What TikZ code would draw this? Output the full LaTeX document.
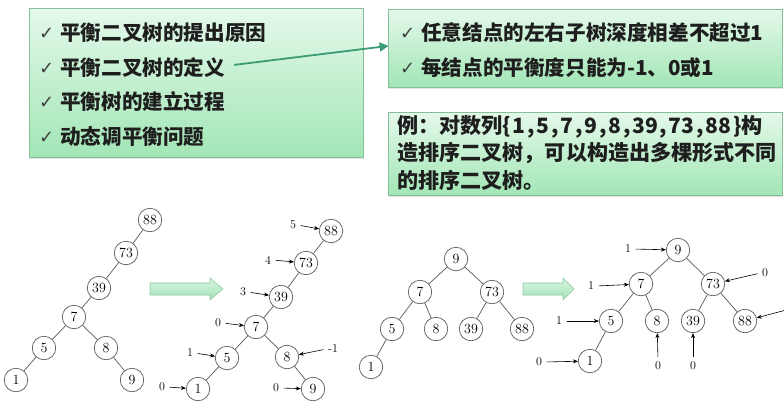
\documentclass[tikz,border=0pt]{standalone}
\usepackage{fontspec}
\newfontfamily\cjk{Noto Sans CJK SC}
\newfontfamily\dejavu{DejaVu Sans}
\usetikzlibrary{shadows,arrows.meta}

\definecolor{boxtop}{HTML}{E4F9EA}
\definecolor{boxbot}{HTML}{A2E6B6}
\definecolor{boxedge}{HTML}{86BE98}
\definecolor{inktext}{HTML}{1E1E1E}
\definecolor{linkcol}{HTML}{3C9C76}
\definecolor{treeline}{HTML}{5A5A5A}
\definecolor{bigtop}{HTML}{D8F6E2}
\definecolor{bigbot}{HTML}{A4E2B8}
\definecolor{bigedge}{HTML}{8FC7A2}

\newcommand{\chk}{\makebox[21pt][l]{\raisebox{1pt}{\dejavu\mdseries\fontsize{18}{18}\selectfont\color{black!75}✓}}}
% wider spacing for the number list
\newcommand{\sk}{\kern1.8pt}

\begin{document}
\begin{tikzpicture}[x=1pt,y=-1pt,
  panel/.style={draw=boxedge, line width=0.8pt, top color=boxtop, bottom color=boxbot,
    inner sep=0pt, drop shadow={opacity=0.22, shadow xshift=1pt, shadow yshift=-2pt}},
  item/.style={anchor=west, inner sep=0pt, text=inktext, font=\cjk\bfseries\fontsize{20.6}{24}\selectfont},
  itemb/.style={item, font=\cjk\bfseries\fontsize{21.1}{24}\selectfont},
  link/.style={draw=linkcol, line width=1.8pt, -{Triangle[length=9pt,width=9pt]}},
  tn/.style={circle, draw=treeline, fill=white, line width=0.7pt, minimum size=23.5pt,
    inner sep=0pt, font=\fontsize{14}{14}\selectfont},
  edge/.style={draw=treeline, line width=0.7pt},
  lab/.style={inner sep=1.5pt, font=\fontsize{12}{12}\selectfont},
  pt/.style={draw=black, line width=0.6pt, -{Stealth[length=5pt,width=4pt]}, shorten <=3pt},
  bigarrow/.style={draw=bigedge, line width=0.6pt, top color=bigtop, bottom color=bigbot}]

\useasboundingbox[fill=white] (0,0) rectangle (784,408);

% ---- topic panels ----
\node[panel, minimum width=334pt, minimum height=149pt] (topics) at (196,82.5) {};
\node[panel, minimum width=394pt, minimum height=78pt] (rtop) at (585,48) {};
\node[panel, minimum width=394pt, minimum height=83pt] (rbot) at (585,153.5) {};

\node[item] (l1) at (39,33)  {\chk 平衡二叉树的提出原因};
\node[item] (l2) at (39,68)  {\chk 平衡二叉树的定义};
\node[item] (l3) at (39,102) {\chk 平衡树的建立过程};
\node[item] (l4) at (39,137) {\chk 动态调平衡问题};

\node[item] (r1) at (400,33) {\chk 任意结点的左右子树深度相差不超过1};
\node[item] (r2) at (400,68) {\chk 每结点的平衡度只能为-1、0或1};

\node[itemb] (e1) at (397,127) {例：对数列\{\sk1\sk,\sk5\sk,\sk7\sk,\sk9\sk,\sk8\sk,\sk39\sk,\sk73\sk,\sk88\sk\}构};
\node[itemb] (e2) at (397,153) {造排序二叉树，可以构造出多棵形式不同};
\node[itemb] (e3) at (397,180) {的排序二叉树。};

\draw[link, shorten <=9pt, shorten >=-1pt] ([yshift=2pt]l2.east) -- ([yshift=2pt]rtop.west);

% ---- tree 1: plain insertion order ----
\node[tn] (a88) at (150,220) {88};
\node[tn] (a73) at (126,253) {73};
\node[tn] (a39) at (99,288)  {39};
\node[tn] (a7)  at (74,317)  {7};
\node[tn] (a5)  at (44,348)  {5};
\node[tn] (a8)  at (106,348) {8};
\node[tn] (a1)  at (16,380)  {1};
\node[tn] (a9)  at (132,380) {9};
\draw[edge] (a88) -- (a73) (a73) -- (a39) (a39) -- (a7) (a7) -- (a5) (a7) -- (a8)
            (a5) -- (a1) (a8) -- (a9);

\draw[bigarrow] (150,283) -- (210,283) -- (210,278) -- (223,289) -- (210,300) -- (210,295) -- (150,295) -- cycle;

% ---- tree 2: same tree with balance factors ----
\node[tn] (b88) at (331,231) {88};
\node[tn] (b73) at (306,263) {73};
\node[tn] (b39) at (281,297) {39};
\node[tn] (b7)  at (256,327) {7};
\node[tn] (b5)  at (227,358) {5};
\node[tn] (b8)  at (287,357) {8};
\node[tn] (b1)  at (198,389) {1};
\node[tn] (b9)  at (313,389) {9};
\draw[edge] (b88) -- (b73) (b73) -- (b39) (b39) -- (b7) (b7) -- (b5) (b7) -- (b8)
            (b5) -- (b1) (b8) -- (b9);

\node[lab] (lb88) at (293,225) {5};
\node[lab] (lb73) at (268,260) {4};
\node[lab] (lb39) at (243,292) {3};
\node[lab] (lb7)  at (218,323) {0};
\node[lab] (lb5)  at (190,353) {1};
\node[lab] (lb1)  at (162,387) {0};
\node[lab] (lb9)  at (276,388) {0};
\node[lab] (lb8)  at (333,349) {-1};
\draw[pt] (lb88.east) -- (b88);
\draw[pt] (lb73.east) -- (b73);
\draw[pt] (lb39.east) -- (b39);
\draw[pt] (lb7.east) -- (b7);
\draw[pt] (lb5.east) -- (b5);
\draw[pt] (lb1.east) -- (b1);
\draw[pt] (lb9.east) -- (b9);
\draw[pt] (lb8.west) -- (b8);

% ---- tree 3: a balanced shape ----
\node[tn] (c9)  at (456,259) {9};
\node[tn] (c7)  at (420,292) {7};
\node[tn] (c73) at (492,292) {73};
\node[tn] (c5)  at (392,329) {5};
\node[tn] (c8)  at (436,329) {8};
\node[tn] (c39) at (471,329) {39};
\node[tn] (c88) at (522,329) {88};
\node[tn] (c1)  at (371,367) {1};
\draw[edge] (c9) -- (c7) (c9) -- (c73) (c7) -- (c5) (c7) -- (c8) (c73) -- (c39)
            (c73) -- (c88) (c5) -- (c1);

\draw[bigarrow] (523,283) -- (563,283) -- (563,278) -- (574,289) -- (563,300) -- (563,295) -- (523,295) -- cycle;

% ---- tree 4: balanced shape with balance factors ----
\node[tn] (d9)  at (678,250) {9};
\node[tn] (d7)  at (641,284) {7};
\node[tn] (d73) at (713,284) {73};
\node[tn] (d5)  at (611,321) {5};
\node[tn] (d8)  at (657,321) {8};
\node[tn] (d39) at (693,321) {39};
\node[tn] (d88) at (745,321) {88};
\node[tn] (d1)  at (590,361) {1};
\draw[edge] (d9) -- (d7) (d9) -- (d73) (d7) -- (d5) (d7) -- (d8) (d73) -- (d39)
            (d73) -- (d88) (d5) -- (d1);

\node[lab] (ld9)  at (628,249) {1};
\node[lab] (ld7)  at (591,286) {1};
\node[lab] (ld5)  at (559,321) {1};
\node[lab] (ld1)  at (539,362) {0};
\node[lab] (ld73) at (765,273) {0};
\node[lab] (ld8)  at (658,366) {0};
\node[lab] (ld39) at (693,366) {0};
\coordinate (ld88) at (786,310);
\draw[pt] (ld9.east) -- (d9);
\draw[pt] (ld7.east) -- (d7);
\draw[pt] (ld5.east) -- (d5);
\draw[pt] (ld1.east) -- (d1);
\draw[pt] (ld73.west) -- (d73);
\draw[pt] (ld8.north) -- (d8);
\draw[pt] (ld39.north) -- (d39);
\draw[pt, shorten <=0pt] (ld88) -- (d88);

\end{tikzpicture}
\end{document}
